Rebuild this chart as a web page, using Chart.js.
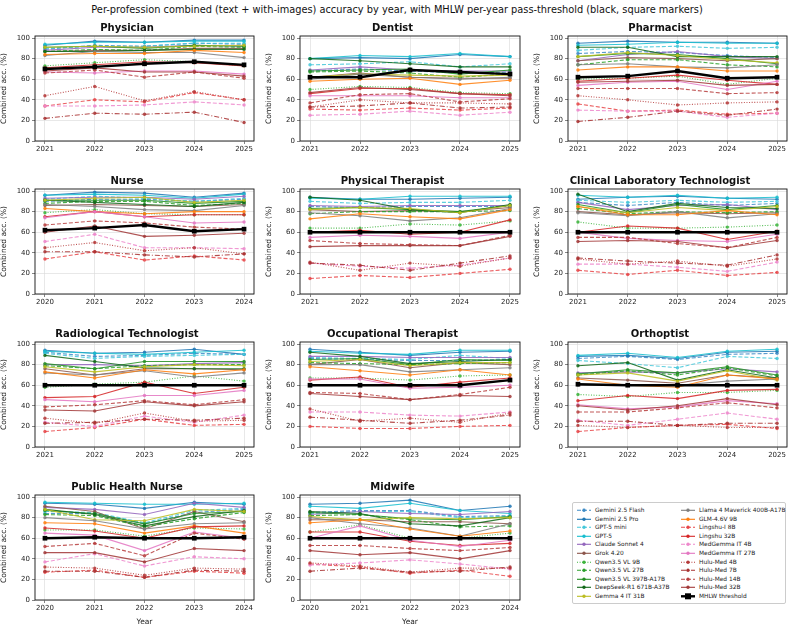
<!DOCTYPE html>
<html>
<head>
<meta charset="utf-8">
<script src="https://cdn.jsdelivr.net/npm/chart.js@4.4.1/dist/chart.umd.min.js"></script>
<style>
  body { margin: 0; background: #fff; width: 794px; height: 625px; position: relative; overflow: hidden; font-family: "DejaVu Sans", sans-serif; }
  canvas { position: absolute; }
  #title { position: absolute; top: 4px; left: 0; width: 794px; text-align: center; font-size: 9.8px; color: #111; }
  #legend { position: absolute; left: 572px; top: 502px; width: 212px; height: 100px; border: 1px solid #ccc; border-radius: 2px; font-size: 5.9px; color: #222; }
  .item { position: absolute; height: 8.6px; line-height: 8.6px; white-space: nowrap; }
  .item svg { position: absolute; left: 0; top: 0; }
  .item span { position: absolute; left: 19px; top: 0; }
</style>
</head>
<body>
<div id="title">Per-profession combined (text + with-images) accuracy by year, with MHLW per-year pass-threshold (black, square markers)</div>
<div id="legend"></div>
<script>
/* years on the x axis */
var yearsA = [2021, 2022, 2023, 2024, 2025];
var yearsB = [2020, 2021, 2022, 2023, 2024];
var yTicks = [0, 20, 40, 60, 80, 100];

/* models, in legend order */
var modelNames = ["Gemini 2.5 Flash", "Gemini 2.5 Pro", "GPT-5 mini", "GPT-5", "Claude Sonnet 4", "Grok 4.20",
  "Qwen3.5 VL 9B", "Qwen3.5 VL 27B", "Qwen3.5 VL 397B-A17B", "DeepSeek-R1 671B-A37B", "Gemma 4 IT 31B",
  "Llama 4 Maverick 400B-A17B", "GLM-4.6V 9B", "Lingshu-I 8B", "Lingshu 32B", "MedGemma IT 4B", "MedGemma IT 27B",
  "Hulu-Med 4B", "Hulu-Med 7B", "Hulu-Med 14B", "Hulu-Med 32B"];
var modelColors = ["#3f8cc6", "#1f77b4", "#45c8da", "#17becf", "#9467bd", "#8c564b",
  "#3cb43c", "#2ca02c", "#259025", "#13691a", "#bcbd22",
  "#7f7f7f", "#ff7f0e", "#e8474a", "#d62728", "#ee88cc", "#e377c2",
  "#b53a3a", "#a83232", "#b84040", "#a33a3a"];
var modelDash = ["dash", "solid", "dash", "solid", "solid", "solid",
  "dot", "dash", "solid", "solid", "solid",
  "solid", "solid", "dash", "solid", "dash", "solid",
  "dot", "dashdot", "dash", "solid"];

/* combined accuracy (%), one row per model, columns = years */
var physician = [
  [89,93,92,95,94],[93,97,96,98,98],[90,92,92,95,95],[94,96,96,97,97],[88,91,91,93,92],[87,88,88,90,90],
  [73,76,79,77,73],[87,89,88,92,91],[91,92,90,93,92],[87,87,88,89,89],[91,92,91,92,93],
  [83,87,86,86,81],[84,85,85,88,86],[34,40,38,47,40],[71,74,77,76,73],[34,34,35,38,35],[67,66,68,68,65],
  [44,53,39,48,40],[22,27,26,28,18],[66,69,62,67,61],[68,71,67,67,63]];
var physicianPass = [70,72,75,77,74];

var dentist = [
  [68,70,68,66,67],[80,81,80,84,82],[74,75,77,72,75],[80,83,82,85,82],[69,72,69,68,68],[62,66,62,61,61],
  [50,53,52,47,46],[67,68,66,62,65],[68,69,70,65,69],[80,78,75,72,72],[62,65,64,63,64],
  [60,65,62,60,62],[58,60,61,55,59],[31,30,32,30,32],[46,51,51,46,45],[25,26,29,25,28],[44,44,44,42,42],
  [33,40,37,37,36],[33,34,37,32,33],[37,45,46,38,41],[47,52,50,46,44]];
var dentistPass = [62,62,69,67,65];

var pharmacist = [
  [85,87,86,83,81],[95,97,96,96,95],[88,91,92,90,91],[93,94,96,95,95],[78,84,87,82,80],[78,81,80,78,80],
  [60,61,63,55,61],[74,79,79,74,72],[82,85,84,80,75],[91,91,82,82,82],[82,86,83,79,76],
  [74,75,72,71,74],[69,72,72,68,68],[36,29,30,26,27],[58,61,64,59,55],[30,29,29,23,27],[54,57,58,50,58],
  [44,40,35,37,38],[19,23,29,25,31],[51,51,51,46,47],[57,58,59,54,55]];
var pharmacistPass = [62,63,68,61,62];

var nurse = [
  [90,92,92,90,92],[96,99,98,94,98],[92,95,93,90,93],[96,97,96,93,97],[93,94,94,92,95],[86,87,86,85,87],
  [79,82,78,77,77],[88,90,90,86,88],[91,91,91,88,90],[91,89,87,85,89],[91,93,94,89,91],
  [87,85,82,81,86],[83,80,78,80,80],[34,41,33,37,33],[75,80,75,77,77],[51,58,45,45,44],[74,80,75,69,70],
  [45,50,42,45,39],[41,41,38,36,39],[67,71,69,65,63],[60,66,56,57,59]];
var nursePass = [62,64,67,61,63];

var physicalTherapist = [
  [85,84,85,85,85],[94,92,92,93,94],[90,88,89,89,91],[93,92,95,95,95],[86,85,86,86,86],[82,80,81,80,84],
  [64,64,68,67,71],[78,80,80,80,81],[83,84,82,80,86],[94,91,82,79,87],[82,84,83,79,86],
  [79,76,71,74,83],[73,78,75,73,82],[15,18,16,20,24],[60,62,58,60,72],[30,27,25,28,35],[55,57,56,54,60],
  [31,23,30,27,35],[30,28,23,30,37],[52,49,48,47,57],[46,47,47,47,56]];
var physicalTherapistPass = [60,60,60,60,60];

var clinicalLab = [
  [89,86,89,86,88],[92,94,95,93,92],[91,89,91,89,90],[96,94,96,93,94],[89,82,86,87,82],[80,77,79,78,79],
  [70,64,64,65,67],[83,78,80,79,80],[87,79,87,82,86],[97,80,88,84,83],[85,79,84,81,85],
  [79,76,80,74,78],[85,77,77,81,77],[23,19,23,18,21],[60,66,64,53,61],[29,29,26,22,31],[60,54,52,51,58],
  [34,29,32,27,34],[35,32,30,28,38],[55,55,49,45,55],[51,52,51,45,52]];
var clinicalLabPass = [60,60,60,60,60];

var radiological = [
  [92,88,89,91,90],[94,91,92,95,90],[91,86,88,89,90],[93,91,90,92,94],[80,80,79,81,82],[76,70,76,76,75],
  [58,61,63,69,64],[79,76,79,80,80],[81,76,83,83,83],[89,83,77,76,76],[78,73,78,80,79],
  [72,70,74,68,72],[73,67,75,71,75],[15,19,27,21,22],[48,49,63,52,58],[24,20,30,24,31],[46,44,50,50,55],
  [28,23,33,25,26],[23,24,27,26,28],[39,41,45,41,46],[36,35,44,40,44]];
var radiologicalPass = [60,60,60,60,60];

var occupational = [
  [86,85,84,84,85],[95,92,89,92,93],[87,86,85,89,86],[93,91,90,94,94],[88,88,87,87,87],[80,85,77,82,80],
  [67,67,65,69,70],[82,81,80,81,82],[85,86,80,85,84],[92,88,81,83,85],[83,85,79,82,82],
  [80,80,73,75,77],[78,74,70,75,70],[20,18,18,20,21],[65,68,58,63,67],[34,34,31,30,34],[66,66,57,58,60],
  [37,25,28,24,33],[29,26,23,26,31],[53,52,46,51,58],[52,49,46,50,49]];
var occupationalPass = [60,60,60,60,65];

var orthoptist = [
  [86,88,85,90,91],[88,89,86,92,93],[84,81,77,88,86],[89,91,87,93,95],[72,73,72,76,73],[67,65,62,70,67],
  [51,49,53,53,55],[70,74,70,77,69],[71,75,72,78,70],[79,82,65,75,67],[70,72,64,74,65],
  [60,60,60,64,66],[66,60,58,70,66],[15,19,21,22,18],[45,50,47,55,56],[26,21,27,33,27],[41,37,39,45,42],
  [21,19,21,19,19],[25,25,21,23,23],[34,34,38,43,38],[40,36,40,47,41]];
var orthoptistPass = [61,60,60,60,60];

var publicHealthNurse = [
  [84,84,74,85,88],[94,93,89,95,93],[86,85,75,87,89],[95,94,93,93,94],[90,88,83,94,90],[91,86,69,86,76],
  [68,68,62,70,69],[83,82,71,79,85],[87,84,74,84,86],[88,83,72,81,87],[88,78,77,88,86],
  [80,77,69,74,75],[75,74,65,72,65],[27,29,22,28,26],[70,67,60,71,72],[37,45,33,42,40],[65,63,48,66,60],
  [32,31,24,31,30],[28,28,22,29,28],[52,55,43,65,59],[46,46,37,50,48]];
var publicHealthNursePass = [60,61,60,60,61];

var midwife = [
  [85,87,87,81,82],[93,94,97,87,91],[84,86,86,80,81],[91,89,94,87,84],[83,86,84,83,86],[78,78,76,76,74],
  [66,73,60,60,65],[82,83,78,71,72],[85,83,79,78,81],[86,84,74,72,80],[81,78,80,79,80],
  [80,74,70,62,74],[75,78,69,62,67],[35,32,26,29,23],[66,66,57,53,55],[34,36,39,35,30],[60,72,58,52,58],
  [36,33,27,31,31],[28,31,27,28,32],[53,53,50,48,51],[48,44,46,40,48]];
var midwifePass = [60,60,60,60,60];

var panels = [
  { title: "Physician", years: yearsA, scores: physician, pass: physicianPass, col: 0, row: 0 },
  { title: "Dentist", years: yearsA, scores: dentist, pass: dentistPass, col: 1, row: 0 },
  { title: "Pharmacist", years: yearsA, scores: pharmacist, pass: pharmacistPass, col: 2, row: 0 },
  { title: "Nurse", years: yearsB, scores: nurse, pass: nursePass, col: 0, row: 1 },
  { title: "Physical Therapist", years: yearsA, scores: physicalTherapist, pass: physicalTherapistPass, col: 1, row: 1 },
  { title: "Clinical Laboratory Technologist", years: yearsA, scores: clinicalLab, pass: clinicalLabPass, col: 2, row: 1 },
  { title: "Radiological Technologist", years: yearsA, scores: radiological, pass: radiologicalPass, col: 0, row: 2 },
  { title: "Occupational Therapist", years: yearsA, scores: occupational, pass: occupationalPass, col: 1, row: 2 },
  { title: "Orthoptist", years: yearsA, scores: orthoptist, pass: orthoptistPass, col: 2, row: 2 },
  { title: "Public Health Nurse", years: yearsB, scores: publicHealthNurse, pass: publicHealthNursePass, col: 0, row: 3, xTitle: true },
  { title: "Midwife", years: yearsB, scores: midwife, pass: midwifePass, col: 1, row: 3, xTitle: true }
];

var dashes = { solid: [], dash: [4, 2], dot: [1, 1.6], dashdot: [5, 2, 1, 2] };

/* plot area placement */
var colLeft = [35, 300, 568];
var colWidth = [219, 220, 219];
var rowTop = [36, 189, 342, 495];
var plotH = 105;
var yAxisW = 35;
var titleH = 22;

Chart.defaults.font.family = "'DejaVu Sans', sans-serif";
Chart.defaults.color = "#222";

/* matplotlib-like box round the plot area */
var frame = {
  id: "frame",
  afterDraw: function (chart) {
    var a = chart.chartArea, c = chart.ctx;
    c.save();
    c.strokeStyle = "#111";
    c.lineWidth = 0.9;
    c.strokeRect(a.left, a.top, a.right - a.left, a.bottom - a.top);
    c.restore();
  }
};

panels.forEach(function (p) {
  var xH = p.xTitle ? 27 : 16;
  var cv = document.createElement("canvas");
  var w = colWidth[p.col] + yAxisW + 1 + 4;
  var h = titleH + plotH + xH;
  cv.width = w; cv.height = h;
  cv.style.left = (colLeft[p.col] - yAxisW - 1) + "px";
  cv.style.top = (rowTop[p.row] - titleH) + "px";
  document.body.appendChild(cv);

  var datasets = [];
  for (var i = 0; i < modelNames.length; i++) {
    var pts = [];
    for (var k = 0; k < p.years.length; k++) pts.push({ x: p.years[k], y: p.scores[i][k] });
    datasets.push({
      label: modelNames[i],
      data: pts,
      borderColor: modelColors[i] + "dd",
      backgroundColor: modelColors[i] + "dd",
      borderWidth: 1.1,
      borderDash: dashes[modelDash[i]],
      pointRadius: 1.7,
      pointBorderWidth: 0,
      order: -i
    });
  }
  var passPts = [];
  for (var k = 0; k < p.years.length; k++) passPts.push({ x: p.years[k], y: p.pass[k] });
  datasets.push({
    label: "MHLW threshold",
    data: passPts,
    borderColor: "#000",
    backgroundColor: "#000",
    borderWidth: 2.4,
    pointStyle: "rect",
    pointRadius: 3.3,
    pointBorderWidth: 0,
    order: -100
  });

  var yrs = p.years;
  new Chart(cv, {
    type: "line",
    data: { datasets: datasets },
    options: {
      responsive: false,
      animation: false,
      layout: { padding: { left: 1, right: 4, top: 0, bottom: 0 } },
      plugins: {
        legend: { display: false },
        tooltip: { enabled: false },
        title: { display: true, text: p.title, color: "#111", font: { size: 10, weight: "bold" }, padding: { top: 8, bottom: 2 } }
      },
      scales: {
        x: {
          type: "linear",
          min: yrs[0] - 0.2,
          max: yrs[yrs.length - 1] + 0.2,
          afterBuildTicks: function (axis) { axis.ticks = yrs.map(function (v) { return { value: v }; }); },
          afterFit: function (scale) { scale.height = xH; },
          ticks: { font: { size: 7 }, padding: 1, maxRotation: 0, callback: function (v) { return String(v); } },
          grid: { color: "#d8d8d8", lineWidth: 0.6, borderDash: [1, 2], tickLength: 3, tickColor: "#333", tickBorderDash: [] },
          border: { display: false },
          title: { display: !!p.xTitle, text: "Year", font: { size: 7.5 }, padding: { top: 1, bottom: 0 } }
        },
        y: {
          min: 0,
          max: 102,
          afterBuildTicks: function (axis) { axis.ticks = yTicks.map(function (v) { return { value: v }; }); },
          afterFit: function (scale) { scale.width = yAxisW; },
          ticks: { font: { size: 7 }, padding: 2 },
          grid: { color: "#d8d8d8", lineWidth: 0.6, borderDash: [1, 2], tickLength: 3, tickColor: "#333", tickBorderDash: [] },
          border: { display: false },
          title: { display: true, text: "Combined acc. (%)", font: { size: 7.5 }, padding: 0 }
        }
      }
    },
    plugins: [frame]
  });
});

/* legend box, two columns */
var legend = document.getElementById("legend");
var entries = modelNames.map(function (n, i) { return { name: n, color: modelColors[i], dash: dashes[modelDash[i]], thick: false }; });
entries.push({ name: "MHLW threshold", color: "#000", dash: [], thick: true });
entries.forEach(function (e, i) {
  var col = i < 11 ? 0 : 1;
  var row = i < 11 ? i : i - 11;
  var d = document.createElement("div");
  d.className = "item";
  d.style.left = (col === 0 ? 3 : 107) + "px";
  d.style.top = (3 + row * 8.6) + "px";
  var marker = e.thick
    ? '<rect x="5" y="1.3" width="6" height="6" fill="#000"/>'
    : '<circle cx="8" cy="4.3" r="1.7" fill="' + e.color + '"/>';
  d.innerHTML = '<svg width="17" height="8.6"><line x1="1" y1="4.3" x2="15" y2="4.3" stroke="' + e.color +
    '" stroke-width="' + (e.thick ? 2.4 : 1.1) + '" stroke-dasharray="' + e.dash.join(",") + '"/>' + marker +
    '</svg><span>' + e.name + '</span>';
  legend.appendChild(d);
});
</script>
</body>
</html>
